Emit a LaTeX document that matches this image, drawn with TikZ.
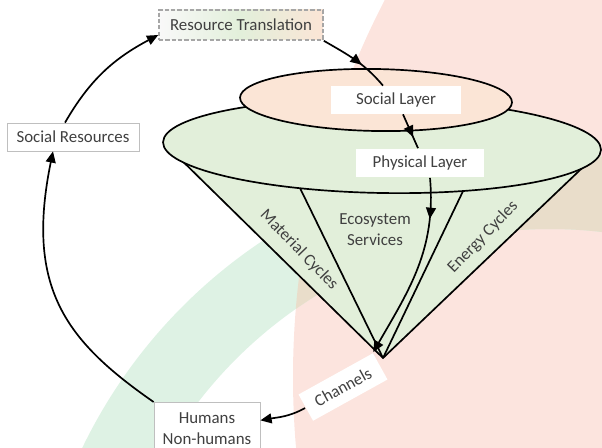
\documentclass[tikz,border=0pt]{standalone}
\usepackage{fontspec}
\setmainfont{Carlito}
\usepackage{tikz}
\usetikzlibrary{arrows.meta,decorations.markings}

\definecolor{bgpink}{HTML}{FCE4DE}
\definecolor{bandgreen}{HTML}{DEF2E4}
\definecolor{bandtan}{HTML}{E9DDCA}
\definecolor{conegreen}{HTML}{E2EFDA}
\definecolor{peach}{HTML}{FBE5D6}
\definecolor{txtgray}{HTML}{404040}

\tikzset{
  arrowtip/.style={-{Triangle[length=8pt,width=7pt]}},
  midtip/.style={postaction={decorate,decoration={markings,
      mark=at position #1 with {\arrow{Triangle[length=8pt,width=7pt]}}}}},
  whitebox/.style={fill=white,inner xsep=6pt,minimum height=0.7cm},
  graybox/.style={draw=gray!50,line width=0.5pt,fill=white,inner xsep=5pt,minimum height=0.7cm},
  rtbox/.style={draw=gray!70,line width=1.1pt,dash pattern=on 3pt off 1.5pt,
      left color=gray!5,right color=peach,middle color=conegreen,
      minimum width=4.1cm,minimum height=0.75cm}
}

\begin{document}
\begin{tikzpicture}[x=0.025cm,y=0.025cm,font=\fontsize{12}{15}\selectfont,text=txtgray,line width=1.2pt]
  \clip (0,0) rectangle (602,447);
  % background
  \fill[bgpink] (1112,70) circle[radius=819];
  \fill[bandgreen,even odd rule] (550,-226) circle[radius=519] (550,-226) circle[radius=444];
  \begin{scope}
    \clip (1112,70) circle[radius=819];
    \fill[bandtan,even odd rule] (550,-226) circle[radius=519] (550,-226) circle[radius=444];
  \end{scope}

  % cone
  \coordinate (apex) at (383,89);
  \coordinate (rimL) at (163,305);
  \coordinate (rimR) at (601,297);
  \coordinate (rimA) at (298,263);
  \coordinate (rimB) at (465,260);
  \fill[conegreen] (rimL) -- (apex) -- (rimR) -- cycle;
  \draw (rimL) -- (apex) -- (rimR);
  \draw (rimA) -- (apex) (rimB) -- (apex);
  \draw[fill=conegreen,rotate around={-1:(382,301)}] (382,301) ellipse[x radius=219,y radius=47];
  \draw[fill=peach,rotate around={-1:(376,347)}] (376,347) ellipse[x radius=136,y radius=31];

  \node (eco) at (375,217) [align=center] {Ecosystem\\Services};
  \node (mat) at (299,197) [rotate=-46] {Material Cycles};
  \node (ene) at (483,210) [rotate=46] {Energy Cycles};

  % boxes
  \node (rt) at (241,422) [rtbox] {Resource Translation};
  \node (sr) at (73,310) [graybox,minimum width=3.3cm] {Social Resources};
  \node (sl) at (396,347) [whitebox,minimum width=3.225cm,minimum height=0.675cm] {Social Layer};
  \node (pl) at (420,284) [whitebox,minimum width=3.175cm] {Physical Layer};
  \node (hn) at (207,45) [graybox,anchor=north,align=center,minimum width=2.65cm,minimum height=1.3cm] {Humans\\Non-humans};
  \node (ch) at (343,60) [whitebox,rotate=29,inner xsep=8pt,minimum height=0.75cm] {Channels};

  % arrows
  \draw[midtip=0.6] (rt.south east) to[out=-30,in=130] ([xshift=-0.325cm]sl.north);
  \draw[midtip=0.67] ([xshift=0.175cm]sl.south) -- ([xshift=-0.05cm]pl.north);
  \draw[midtip=0.22,arrowtip] ([xshift=0.25cm]pl.south) to[out=-85,in=60] (ch.north east);
  \draw[arrowtip] (ch.west) to[out=209,in=10] ([yshift=0.2cm]hn.east);
  \draw[arrowtip] (hn.north west) .. controls (66,106) and (25,159) .. ([xshift=-0.5cm]sr.south);
  \draw[arrowtip] ([xshift=-0.2cm]sr.north) to[out=60,in=208] ([yshift=-0.25cm]rt.west);
\end{tikzpicture}
\end{document}
